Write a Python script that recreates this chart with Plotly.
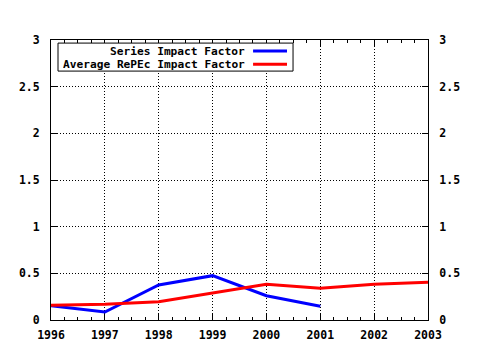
import plotly.graph_objects as go

years = [1996, 1997, 1998, 1999, 2000, 2001, 2002, 2003]
series_years = [1996, 1997, 1998, 1999, 2000, 2001]
series_if = [0.153, 0.086, 0.375, 0.475, 0.26, 0.147]
repec_if = [0.157, 0.168, 0.196, 0.293, 0.382, 0.34, 0.382, 0.404]
ytick_vals = [0, 0.5, 1, 1.5, 2, 2.5, 3]
ytick_text = ["0", "0.5", "1", "1.5", "2", "2.5", "3"]
names = ["Series Impact Factor", "Average RePEc Impact Factor"]
colors = ["#0000ff", "#ff0000"]

FONT = dict(family="DejaVu Sans Mono", size=11.5, color="black", weight="bold")
LFONT = dict(family="DejaVu Sans Mono", size=11.2, color="black", weight="bold")

fig = go.Figure()
fig.add_trace(go.Scatter(x=series_years, y=series_if, mode="lines",
                         line=dict(color=colors[0], width=3), name=names[0], showlegend=False))
fig.add_trace(go.Scatter(x=years, y=repec_if, mode="lines",
                         line=dict(color=colors[1], width=3), name=names[1], showlegend=False))
fig.add_trace(go.Scatter(x=years, y=repec_if, yaxis="y2", mode="lines",
                         line=dict(width=0), opacity=0, hoverinfo="skip", showlegend=False))

axis_common = dict(showline=True, linecolor="black", linewidth=1, ticks="inside",
                   tickcolor="black", ticklen=6, tickfont=FONT, zeroline=False, automargin=False)

fig.update_layout(
    width=480, height=350,
    margin=dict(l=51, r=52, t=40, b=30),
    paper_bgcolor="white", plot_bgcolor="white",
    xaxis=dict(range=[1996, 2003], tickvals=years, ticktext=[str(y) for y in years],
               showgrid=True, gridcolor="black", griddash="1px,2px", gridwidth=1,
               mirror="ticks", ticklabelstandoff=4,
               minor=dict(ticks="inside", ticklen=3, dtick=0.25, tick0=1996, tickcolor="black", showgrid=False),
               **axis_common),
    yaxis=dict(range=[0, 3], tickvals=ytick_vals, ticktext=ytick_text,
               showgrid=True, gridcolor="black", griddash="1px,2px", gridwidth=1,
               mirror="ticks", ticklabelstandoff=8,
               **axis_common),
    yaxis2=dict(range=[0, 3], tickvals=ytick_vals, ticktext=ytick_text, overlaying="y", side="right",
                showgrid=False, ticklabelstandoff=8, **axis_common),
)

# legend box
fig.add_shape(type="rect", xref="paper", yref="paper", x0=0.0186, x1=0.642, y0=0.889, y1=0.989,
              line=dict(color="black", width=1), fillcolor="white")
for i, (nm, c) in enumerate(zip(names, colors)):
    yy = 0.961 - i * 0.048
    fig.add_annotation(text=nm, xref="paper", yref="paper", x=0.517, y=yy, xanchor="right",
                       yanchor="middle", showarrow=False, font=LFONT, height=12, borderpad=0)
    fig.add_shape(type="line", xref="paper", yref="paper", x0=0.536, x1=0.626, y0=yy, y1=yy,
                  line=dict(color=c, width=3))

fig.write_html("out.html")
